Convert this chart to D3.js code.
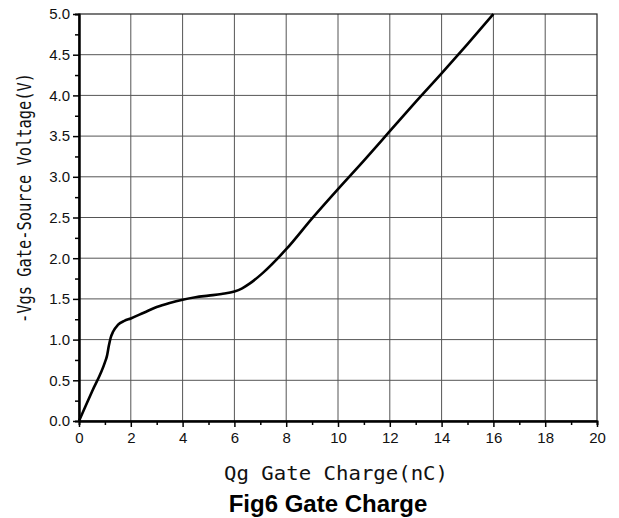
<!DOCTYPE html>
<html>
<head>
<meta charset="utf-8">
<script src="https://cdn.jsdelivr.net/npm/d3@7"></script>
<style>
  body { margin: 0; background: #fff; }
  svg { display: block; }
</style>
</head>
<body>
<svg id="svg1"></svg>
<script>
// curve
const qg  = [0, 0.5, 1.0, 1.08, 1.15, 1.22, 1.32, 1.5, 1.75, 2.0, 2.5, 3.0, 3.5, 4.0, 4.5, 5.0, 5.5, 6.0, 6.3, 6.6, 7.1, 8.0, 9.0, 10.0, 11.0, 12.0, 13.0, 14.0, 15.0, 16.0];
const vgs = [0, 0.36, 0.72, 0.80, 0.92, 1.02, 1.10, 1.18, 1.23, 1.26, 1.33, 1.40, 1.45, 1.49, 1.52, 1.54, 1.56, 1.59, 1.63, 1.69, 1.82, 2.11, 2.49, 2.85, 3.20, 3.56, 3.92, 4.27, 4.63, 5.0];

const xTicks = [0, 2, 4, 6, 8, 10, 12, 14, 16, 18, 20];
const yTicks = [0, 0.5, 1.0, 1.5, 2.0, 2.5, 3.0, 3.5, 4.0, 4.5, 5.0];

const xLabel = "Qg Gate Charge(nC)";
const yLabel = "-Vgs Gate-Source Voltage(V)";
const title = "Fig6 Gate Charge";

// layout
const margin = {top: 14, right: 22, bottom: 97, left: 79};
const width = 518;
const height = 407;

const root = d3.select('#svg1')
    .attr('width', 619)
    .attr('height', 518);

const svg = root.append('g')
    .attr('transform', 'translate(' + margin.left + ',' + margin.top + ')');

const x = d3.scaleLinear().domain([0, 20]).range([0, width]);
const y = d3.scaleLinear().domain([0, 5]).range([height, 0]);

// grid
svg.append('g')
    .selectAll('line')
    .data(xTicks.slice(1, -1))
    .enter().append('line')
    .attr('x1', d => x(d)).attr('x2', d => x(d))
    .attr('y1', 0).attr('y2', height)
    .attr('stroke', '#555').attr('stroke-width', 1);
svg.append('g')
    .selectAll('line')
    .data(yTicks.slice(1, -1))
    .enter().append('line')
    .attr('x1', 0).attr('x2', width)
    .attr('y1', d => y(d)).attr('y2', d => y(d))
    .attr('stroke', '#555').attr('stroke-width', 1);

// border top / right
svg.append('rect')
    .attr('x', 0).attr('y', 0)
    .attr('width', width).attr('height', height)
    .attr('fill', 'none')
    .attr('stroke', '#222')
    .attr('stroke-width', 1.2);

// minor ticks
const xMinor = d3.range(1, 20, 2);
const yMinor = d3.range(0.25, 5, 0.5);

const xAxis = svg.append('g')
    .attr('transform', 'translate(0,' + height + ')');
xAxis.call(d3.axisBottom(x).tickValues(xMinor).tickSize(4).tickFormat(''));
xAxis.append('g')
    .call(d3.axisBottom(x).tickValues(xTicks).tickSize(6).tickSizeOuter(0).tickFormat(d3.format('d')));

const yAxis = svg.append('g');
yAxis.call(d3.axisLeft(y).tickValues(yMinor).tickSize(4).tickFormat(''));
yAxis.append('g')
    .call(d3.axisLeft(y).tickValues(yTicks).tickSize(6).tickSizeOuter(0).tickFormat(d3.format('.1f')));

svg.selectAll('.domain').attr('stroke', '#000').attr('stroke-width', 2);
svg.selectAll('.tick line').attr('stroke', '#000').attr('stroke-width', 1.5);
svg.selectAll('.tick text')
    .attr('fill', '#111')
    .style('font-family', 'Liberation Sans, Arial, sans-serif')
    .style('font-size', '15px');
xAxis.selectAll('.tick text').attr('y', 11);
yAxis.selectAll('.tick text').attr('x', -9);

// curve
const pts = qg.map((q, i) => [q, vgs[i]]);
svg.append('path')
    .datum(pts)
    .attr('fill', 'none')
    .attr('stroke', '#000')
    .attr('stroke-width', 2.6)
    .attr('stroke-linejoin', 'round')
    .attr('d', d3.line()
        .x(d => x(d[0]))
        .y(d => y(d[1]))
        .curve(d3.curveMonotoneX));

// labels
root.append('text')
    .attr('x', 336)
    .attr('y', 480)
    .attr('text-anchor', 'middle')
    .attr('textLength', 224)
    .attr('lengthAdjust', 'spacingAndGlyphs')
    .style('font-family', 'DejaVu Sans Mono, monospace')
    .style('font-size', '20px')
    .attr('fill', '#111')
    .text(xLabel);

root.append('text')
    .attr('transform', 'translate(31,198) rotate(-90)')
    .attr('text-anchor', 'middle')
    .attr('textLength', 250)
    .attr('lengthAdjust', 'spacingAndGlyphs')
    .style('font-family', 'DejaVu Sans Mono, monospace')
    .style('font-size', '19px')
    .attr('fill', '#111')
    .text(yLabel);

root.append('text')
    .attr('x', 328)
    .attr('y', 512)
    .attr('text-anchor', 'middle')
    .style('font-family', 'Liberation Sans, Arial, sans-serif')
    .style('font-weight', 'bold')
    .style('font-size', '24px')
    .attr('fill', '#000')
    .text(title);
</script>
</body>
</html>
